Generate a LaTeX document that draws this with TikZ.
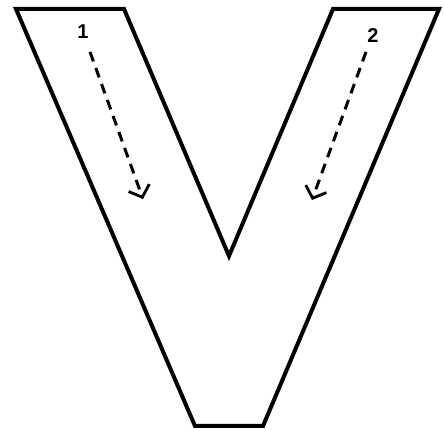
\documentclass[tikz,border=0pt]{standalone}
\usepackage{fontspec}
\setmainfont{Liberation Sans}
\usetikzlibrary{arrows.meta}
\begin{document}
\begin{tikzpicture}[x=1pt,y=-1pt,
  outline/.style={line width=4pt,line join=miter},
  flow/.style={line width=3pt,dash pattern=on 10pt off 7pt,-{Straight Barb[length=10pt,width=22pt,line width=2.8pt]}},
  numlabel/.style={font=\bfseries\fontsize{20}{20}\selectfont}]
\useasboundingbox (0,0) rectangle (445,430);
\fill[white] (0,0) rectangle (445,430);
\coordinate (tl) at (16,9);
\coordinate (til) at (124,9);
\coordinate (vb) at (229,256);
\coordinate (tir) at (333,9);
\coordinate (tr) at (439,9);
\coordinate (br) at (263,426);
\coordinate (bl) at (195,426);
\draw[outline] (tl) -- (til) -- (vb) -- (tir) -- (tr) -- (br) -- (bl) -- cycle;
\node[numlabel] (n1) at (83,32) {1};
\node[numlabel] (n2) at (373,36) {2};
\coordinate (a1s) at (90,52);
\coordinate (a1e) at (143,199);
\coordinate (a2s) at (366,52);
\coordinate (a2e) at (312,200);
\draw[flow] (a1s) -- (a1e);
\draw[flow] (a2s) -- (a2e);
\end{tikzpicture}
\end{document}
